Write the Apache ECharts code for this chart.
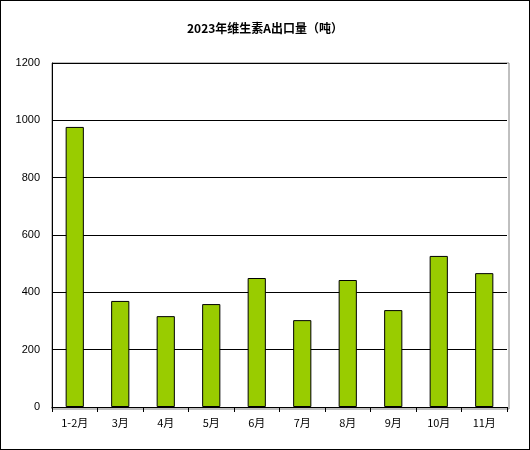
<!DOCTYPE html><html><head><meta charset="utf-8"><script src="https://cdn.jsdelivr.net/npm/echarts@6/dist/echarts.min.js"></script>
<style>body{margin:0;background:#fff}#c{width:530px;height:450px;box-sizing:border-box;border:1px solid #000}</style></head><body><div id="c"></div><script>
const categories=['1-2月','3月','4月','5月','6月','7月','8月','9月','10月','11月'];
const values=[977,370,317,359,450,303,443,338,527,467];
const c=echarts.init(document.getElementById('c'));
c.setOption({animation:false,
title:{text:'2023年维生素A出口量（吨）',left:'center',top:16,textStyle:{fontSize:12,fontWeight:'bold',color:'#000',fontFamily:'Noto Sans CJK SC'}},
grid:{left:51,right:22,top:62,bottom:42},
xAxis:{type:'category',data:categories,axisLine:{lineStyle:{color:'#000'}},axisTick:{show:true,lineStyle:{color:'#000'}},axisLabel:{color:'#000',fontSize:11,margin:10,fontFamily:'Noto Sans CJK SC'}},
yAxis:{type:'value',min:0,max:1200,interval:200,axisLine:{show:true,lineStyle:{color:'#000'}},axisTick:{show:true,inside:true,length:4,lineStyle:{color:'#000'}},axisLabel:{color:'#000',fontSize:11,margin:12,formatter:v=>String(v)},splitLine:{lineStyle:{color:'#000'}}},
series:[{type:'bar',data:values,barWidth:'40%',itemStyle:{color:'#99cc00',borderColor:'#000',borderWidth:1}}]
});
c.getZr().add(new echarts.graphic.Rect({shape:{x:51,y:62,width:457,height:346},style:{fill:'none',stroke:'#808080',lineWidth:1},z:-1}));
</script></body></html>
